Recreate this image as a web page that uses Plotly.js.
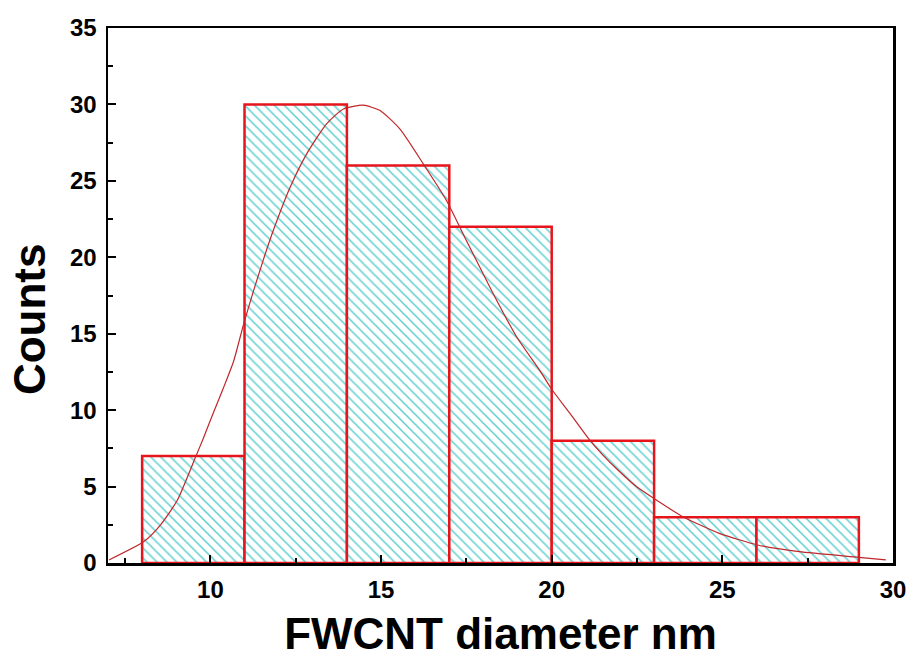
<!DOCTYPE html>
<html>
<head>
<meta charset="utf-8">
<script src="https://cdn.plot.ly/plotly-3.0.1.min.js"></script>
<style>html,body{margin:0;padding:0;background:#fff;}#chart{width:912px;height:662px;}</style>
</head>
<body>
<div id="chart"></div>
<script>
// Histogram bins (diameter, nm) and counts
const binCenters = [9.5, 12.5, 15.5, 18.5, 21.5, 24.5, 27.5];
const binWidth = [3, 3, 3, 3, 3, 3, 3];
const counts = [7, 30, 26, 22, 8, 3, 3];

// Fitted distribution curve
const fitX = [7.03, 8.05, 8.54, 9.03, 9.56, 9.8, 10.1, 10.39, 10.68, 10.97, 11.27, 11.56, 11.85, 12.34, 12.83, 13.41, 13.9, 14.48, 14.97, 15.55, 16.24, 16.92, 17.5, 18.29, 18.97, 19.65, 19.99, 20.53, 21.11, 21.5, 21.94, 22.48, 23.01, 23.84, 24.91, 26.03, 27.25, 29.0, 29.79];
const fitY = [0.2, 1.4, 2.5, 4.1, 6.9, 8.2, 9.9, 11.5, 13.2, 15.6, 17.85, 19.9, 21.8, 24.6, 26.8, 28.75, 29.7, 29.95, 29.6, 28.4, 26.1, 23.7, 21.1, 17.6, 14.8, 12.6, 11.4, 9.8, 8.05, 7.06, 6.08, 5.0, 4.2, 3.03, 1.94, 1.18, 0.74, 0.37, 0.2];

const xTickVals = [10, 15, 20, 25, 30];
const yTickVals = [0, 5, 10, 15, 20, 25, 30, 35];

const traces = [
  {
    type: 'bar',
    x: binCenters,
    y: counts,
    width: binWidth,
    marker: {
      color: '#ffffff',
      line: {color: '#e8141b', width: 2.5},
      pattern: {shape: '\\', fgcolor: '#5fcfd0', bgcolor: '#ffffff', size: 7, solidity: 0.22}
    },
    hoverinfo: 'x+y',
    showlegend: false
  },
  {
    type: 'scatter',
    mode: 'lines',
    x: fitX,
    y: fitY,
    line: {color: '#c0262a', width: 1.2, shape: 'spline', smoothing: 0.6},
    showlegend: false
  }
];

const axisFont = {family: 'Arial, "Liberation Sans", sans-serif', size: 24, color: '#000', weight: 'bold'};

const layout = {
  width: 912,
  height: 662,
  margin: {l: 108, r: 19, t: 28, b: 99},
  paper_bgcolor: '#fff',
  plot_bgcolor: '#fff',
  bargap: 0,
  xaxis: {
    range: [7, 30],
    tickvals: xTickVals,
    ticktext: xTickVals.map(String),
    ticks: 'inside',
    ticklen: 8,
    tickwidth: 2,
    tickcolor: '#000',
    minor: {dtick: 2.5, tick0: 7.5, ticks: 'inside', ticklen: 5, tickwidth: 2, tickcolor: '#000'},
    showline: true,
    linecolor: '#000',
    linewidth: 2.5,
    mirror: true,
    showgrid: false,
    zeroline: false,
    tickfont: axisFont,
    ticklabelstandoff: 4,
    title: {text: 'FWCNT diameter nm', font: {family: 'Arial, "Liberation Sans", sans-serif', size: 44, color: '#000', weight: 'bold'}, standoff: 16}
  },
  yaxis: {
    range: [0, 35],
    tickvals: yTickVals,
    ticktext: yTickVals.map(String),
    ticks: 'inside',
    ticklen: 8,
    tickwidth: 2,
    tickcolor: '#000',
    minor: {dtick: 2.5, tick0: 0, ticks: 'inside', ticklen: 5, tickwidth: 2, tickcolor: '#000'},
    showline: true,
    linecolor: '#000',
    linewidth: 2.5,
    mirror: true,
    showgrid: false,
    zeroline: false,
    tickfont: axisFont,
    ticklabelstandoff: 4,
    title: {text: '', font: {size: 1}}
  },
  annotations: [
    {
      text: 'Counts',
      xref: 'paper', yref: 'paper',
      x: -0.1, y: 0.455,
      xanchor: 'center', yanchor: 'middle',
      textangle: -90,
      showarrow: false,
      font: {family: 'Arial, "Liberation Sans", sans-serif', size: 44, color: '#000', weight: 'bold'}
    }
  ]
};

Plotly.newPlot('chart', traces, layout, {displayModeBar: false, staticPlot: true});
</script>
</body>
</html>
